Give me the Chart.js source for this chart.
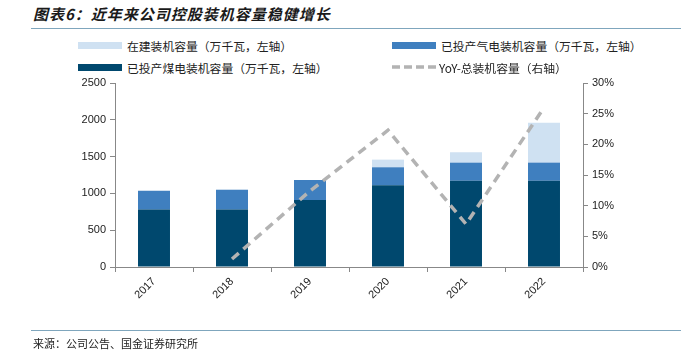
<!DOCTYPE html>
<html>
<head>
<meta charset="utf-8">
<script src="https://cdn.jsdelivr.net/npm/chart.js@4/dist/chart.umd.min.js"></script>
<style>
  body { margin: 0; background: #fff; width: 693px; height: 359px; overflow: hidden; position: relative; font-family: "Noto Sans CJK SC", sans-serif; }
  #title { position: absolute; left: 33px; top: 3px; font-size: 15px; font-weight: bold; font-style: italic; color: #1a1a1a; letter-spacing: 1px; }
  .rule { position: absolute; left: 31px; width: 650px; height: 1px; background: #7fa6bd; }
  #legend { position: absolute; left: 78px; top: 37px; width: 600px; font-size: 11.8px; color: #222; }
  #legend .item { position: absolute; white-space: nowrap; display: flex; align-items: center; height: 16px; }
  #legend .box { width: 44px; height: 7px; margin-right: 5px; }
  #source { position: absolute; left: 33px; top: 335px; font-size: 11px; color: #222; }
  #wrap { position: absolute; left: 0; top: 0; width: 693px; height: 359px; }
</style>
</head>
<body>
<div id="title">图表6：近年来公司控股装机容量稳健增长</div>
<div class="rule" style="top:28px"></div>
<div id="legend"></div>
<div id="wrap"><canvas id="chart"></canvas></div>
<div class="rule" style="top:330px"></div>
<div id="source">来源：公司公告、国金证券研究所</div>
<script>
var years = ['2017', '2018', '2019', '2020', '2021', '2022'];
var coal = [780, 780, 910, 1110, 1172, 1172];
var gas = [256, 270, 272, 245, 246, 246];
var building = [0, 0, 0, 104, 141, 541];
var yoy = [null, 1.3, 12.4, 22.3, 7.0, 26.0];

var leftTicks = [0, 500, 1000, 1500, 2000, 2500];

var chart = new Chart(document.getElementById('chart'), {
  type: 'bar',
  data: {
    labels: years,
    datasets: [
      { label: '在建装机容量（万千瓦，左轴）', data: building, backgroundColor: '#cfe1f2', stack: 's', yAxisID: 'y', order: 3 },
      { label: '已投产气电装机容量（万千瓦，左轴）', data: gas, backgroundColor: '#3f7fbf', stack: 's', yAxisID: 'y', order: 2 },
      { label: '已投产煤电装机容量（万千瓦，左轴）', data: coal, backgroundColor: '#00486e', stack: 's', yAxisID: 'y', order: 1 },
      { label: 'YoY-总装机容量（右轴）', type: 'line', data: yoy, borderColor: '#b3b3b3', borderWidth: 3.5,
        borderDash: [9, 6], pointRadius: 0, fill: false, yAxisID: 'y1', order: 0, tension: 0 }
    ]
  },
  options: {
    responsive: true,
    maintainAspectRatio: false,
    animation: false,
    layout: { padding: { top: 83, left: 0, right: 0, bottom: 0 } },
    datasets: { bar: { categoryPercentage: 0.82, barPercentage: 0.5 } },
    plugins: { legend: { display: false }, tooltip: { enabled: false } },
    scales: {
      x: {
        stacked: true,
        grid: { display: true, offset: true, drawOnChartArea: false, color: '#888', tickLength: 5 },
        border: { color: '#888' },
        ticks: { color: '#222', font: { family: 'Liberation Sans', size: 11 }, minRotation: 45, maxRotation: 45, padding: 3 },
        afterFit: function (s) { s.height = 92; }
      },
      y: {
        stacked: true,
        position: 'left',
        min: 0, max: 2500,
        afterBuildTicks: function (s) { s.ticks = leftTicks.map(function (v) { return { value: v }; }); },
        grid: { drawOnChartArea: false, color: '#888', tickLength: 5 },
        border: { color: '#888' },
        ticks: { color: '#222', font: { family: 'Liberation Sans', size: 11 }, padding: 4,
          callback: function (v) { return String(v); } },
        afterFit: function (s) { s.width = 115; }
      },
      y1: {
        position: 'right',
        min: 0, max: 30,
        grid: { drawOnChartArea: false, color: '#888', tickLength: 5 },
        border: { color: '#888' },
        ticks: { stepSize: 5, color: '#222', font: { family: 'Liberation Sans', size: 11 }, padding: 4,
          callback: function (v) { return v + '%'; } },
        afterFit: function (s) { s.width = 110; }
      }
    }
  }
});

// legend in two columns, built from the datasets
var pos = [[0, 0], [314, 0], [0, 22], [314, 22]];
var legend = document.getElementById('legend');
[0, 1, 2, 3].forEach(function (i, k) {
  var ds = chart.data.datasets[i];
  var item = document.createElement('div');
  item.className = 'item';
  item.style.left = pos[k][0] + 'px';
  item.style.top = pos[k][1] + 'px';
  var box;
  if (ds.type === 'line') {
    box = document.createElement('canvas');
    box.width = 44; box.height = 8;
    box.style.marginRight = '3px';
    var c = box.getContext('2d');
    c.strokeStyle = ds.borderColor; c.lineWidth = 3.5; c.setLineDash([8, 4]);
    c.beginPath(); c.moveTo(0, 4); c.lineTo(44, 4); c.stroke();
  } else {
    box = document.createElement('div');
    box.className = 'box';
    box.style.background = ds.backgroundColor;
  }
  item.appendChild(box);
  var t = document.createElement('span');
  t.textContent = ds.label;
  item.appendChild(t);
  legend.appendChild(item);
});
</script>
</body>
</html>
